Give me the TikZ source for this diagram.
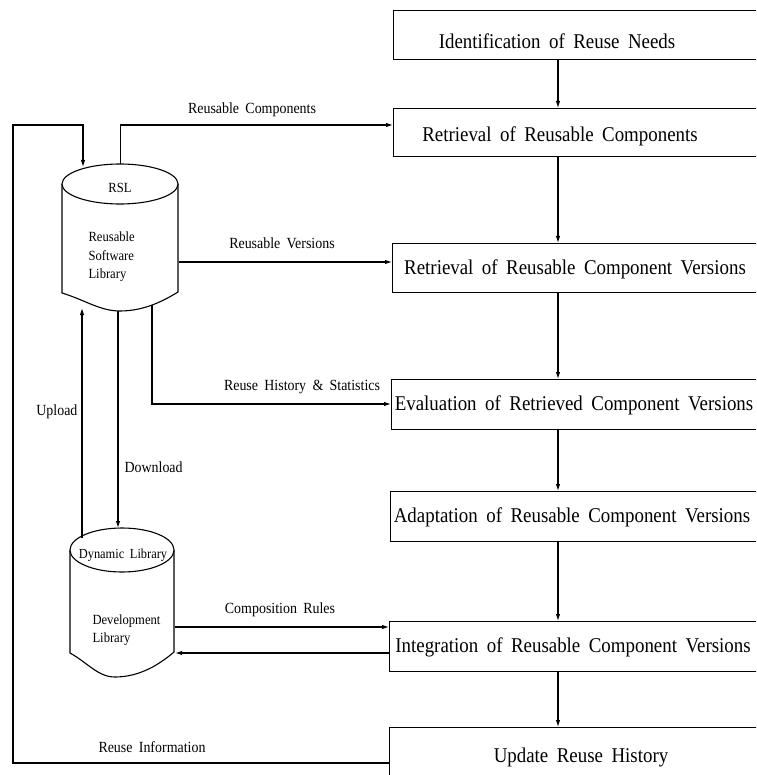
\documentclass[tikz,border=0pt]{standalone}
\usepackage{fontspec}
\setmainfont{Liberation Serif}[WordSpace=1.8, FakeStretch=0.9]
\usetikzlibrary{arrows.meta,calc}
\begin{document}
\begin{tikzpicture}[x=1pt,y=-1pt,
  line width=1.1pt,
  flow/.style={-{Latex[length=7pt,width=4.5pt]}},
  stage/.style={draw, rectangle, minimum width=380pt, anchor=north west, inner sep=0pt},
  stagetext/.style={font=\fontsize{21}{23}\selectfont, inner sep=0pt},
  lbl/.style={font=\fontsize{15.5}{17}\selectfont, inner sep=0pt},
  cyltext/.style={font=\fontsize{14}{18.5}\selectfont, inner sep=0pt, align=left},
  holder/.style={inner sep=0pt, anchor=north west},
]
\clip (0,0) rectangle (756,775);
\fill[white] (0,0) rectangle (756,775);

% process stages (right column)
\node[stage, minimum height=49pt] (s1) at (393,10) {};
\node[stage, minimum height=48pt] (s2) at (393,108) {};
\node[stage, minimum height=49pt] (s3) at (392,243) {};
\node[stage, minimum height=50pt] (s4) at (391,379) {};
\node[stage, minimum height=50pt] (s5) at (390,491) {};
\node[stage, minimum height=50pt] (s6) at (389,621) {};
\node[stage, minimum height=60pt] (s7) at (389,727) {};

\node[stagetext] (t1) at (557,41) {Identification of Reuse Needs};
\node[stagetext] (t2) at (560,136) {Retrieval of Reusable Components};
\node[stagetext] (t3) at (575,269) {Retrieval of Reusable Component Versions};
\node[stagetext] (t4) at (574,405) {Evaluation of Retrieved Component Versions};
\node[stagetext] (t5) at (572,517) {Adaptation of Reusable Component Versions};
\node[stagetext] (t6) at (573,647) {Integration of Reusable Component Versions};
\node[stagetext] (t7) at (581,757) {Update Reuse History};

% downward flow between stages
\coordinate (ax) at (558,0);
\draw[flow] (s1.south -| ax) -- (s2.north -| ax);
\draw[flow] (s2.south -| ax) -- (s3.north -| ax);
\draw[flow] (s3.south -| ax) -- (s4.north -| ax);
\draw[flow] (s4.south -| ax) -- (s5.north -| ax);
\draw[flow] (s5.south -| ax) -- (s6.north -| ax);
\draw[flow] (s6.south -| ax) -- (s7.north -| ax);

% reusable software library (RSL)
\node[holder, minimum width=116pt, minimum height=147pt] (rsl) at (62,164) {};
\draw (62,184) -- (62,293) .. controls (85,300) and (100,311) .. (120,311)
      .. controls (145,311) and (165,300) .. (178,292) -- (178,184);
\draw[fill=white] (120,184) ellipse [x radius=58, y radius=20];
\node[font=\fontsize{14}{16}\selectfont, inner sep=0pt] (rsltitle) at (120,188) {RSL};
\node[cyltext, anchor=west] (rslname) at (88,257) {Reusable\\Software\\Library};

% dynamic (development) library
\node[holder, minimum width=104pt, minimum height=149pt] (dyn) at (70,528) {};
\draw (70,550) -- (70,653) .. controls (88,663) and (98,677) .. (115,677)
      .. controls (140,677) and (160,664) .. (174,652) -- (174,550);
\draw[fill=white] (122,550) ellipse [x radius=52, y radius=22];
\node[font=\fontsize{13.8}{15}\selectfont, inner sep=0pt] (dyntitle) at (123,555) {Dynamic Library};
\node[cyltext, anchor=west] (dynname) at (92,630) {Development\\Library};

% connectors between libraries and stages
\coordinate (rc) at (0,125);
\draw[flow] (rsl.north) |- (s2.west |- rc);
\node[lbl] (lrc) at (252,110) {Reusable Components};

\coordinate (rv) at (0,262);
\draw[flow] (rsl.east |- rv) -- (s3.west |- rv);
\node[lbl] (lrv) at (282,243) {Reusable Versions};

\coordinate (rh) at (152,305);
\coordinate (rhy) at (0,404);
\draw[flow] (rh) |- (s4.west |- rhy);
\node[lbl] (lrh) at (302,387) {Reuse History \& Statistics};

\coordinate (dlx) at (118,311);
\draw[flow] (dlx) -- (dlx |- dyn.north);
\node[lbl, anchor=west] (ldl) at (124,467) {Download};

\coordinate (upb) at (82,538);
\coordinate (upt) at (82,308);
\draw[flow] (upb) -- (upt);
\node[lbl, anchor=east] (lup) at (78,412) {Upload};

\coordinate (cr) at (0,627);
\draw[flow] (dyn.east |- cr) -- (s6.west |- cr);
\node[lbl] (lcr) at (280,610) {Composition Rules};

\coordinate (cb) at (0,653);
\draw[flow] (s6.west |- cb) -- (dyn.east |- cb);

% feedback loop from update of reuse history back into the RSL
\coordinate (fb) at (0,763);
\coordinate (lx) at (13,125);
\coordinate (rtop) at (83,167);
\draw[flow] (s7.west |- fb) -| (lx) -| (rtop);
\node[lbl] (lri) at (152,747) {Reuse Information};

\end{tikzpicture}
\end{document}
